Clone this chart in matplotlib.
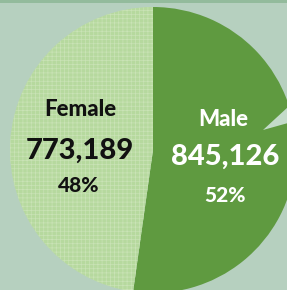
import matplotlib
matplotlib.use("Agg")
import matplotlib.pyplot as plt
from matplotlib.patches import Polygon, Rectangle

labels = ["Male", "Female"]
values = [845126, 773189]
percents = ["52%", "48%"]
value_text = ["845,126", "773,189"]

male_color = "#5f9a40"
female_color = "#b6d99e"
bg_color = "#b6d0bf"

plt.rcParams['hatch.linewidth'] = 0.5

fig = plt.figure(figsize=(2.87, 2.90), dpi=100)
fig.patch.set_facecolor(bg_color)
ax = fig.add_axes([0, 0, 1, 1])
ax.set_facecolor(bg_color)

wedges, _ = ax.pie(values, center=(153, 140), radius=143, startangle=90,
                   counterclock=False, colors=[male_color, female_color],
                   wedgeprops=dict(linewidth=0))
wedges[1].set_hatch('++++')
wedges[1].set_edgecolor('#c9e3b6')
wedges[1].set_linewidth(0)

# callout pointer cut into the male slice
ax.add_patch(Polygon([[263, 160], [288, 183], [288, 167]], closed=True,
                     facecolor="#c3dbc9", edgecolor='none', zorder=3))
# thin top strip
ax.add_patch(Rectangle((0, 287), 287, 3, facecolor="#93bb9c", edgecolor='none', zorder=3))

ax.set_xlim(0, 287)
ax.set_ylim(0, 290)
ax.set_aspect('equal')
ax.axis('off')

font = "Lato"
w = 'black'
ax.text(80, 290 - 110, "Female", ha='center', va='center', fontsize=16,
        fontweight=w, family=font, color='#111111')
ax.text(80, 290 - 151, value_text[1], ha='center', va='center', fontsize=21,
        fontweight=w, family=font, color='#111111')
ax.text(79, 290 - 185, percents[1], ha='center', va='center', fontsize=15,
        fontweight=w, family=font, color='#111111')

ax.text(223, 290 - 119, labels[0], ha='center', va='center', fontsize=16,
        fontweight=w, family=font, color='white')
ax.text(225, 290 - 157, value_text[0], ha='center', va='center', fontsize=21,
        fontweight=w, family=font, color='white')
ax.text(225, 290 - 196, percents[0], ha='center', va='center', fontsize=15,
        fontweight=w, family=font, color='white')

fig.savefig("out.png", dpi=100, facecolor=bg_color)
